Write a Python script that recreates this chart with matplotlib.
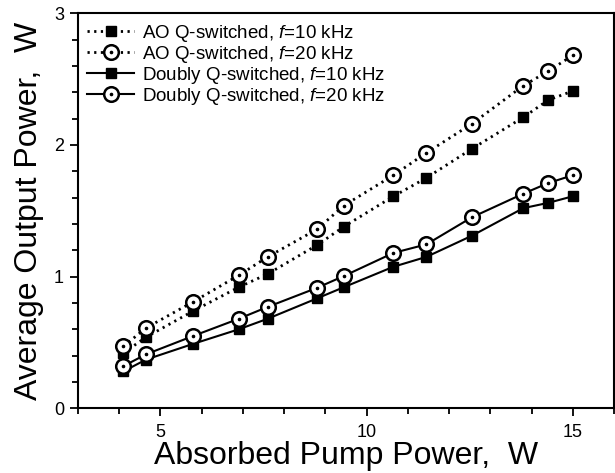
import matplotlib
matplotlib.use("Agg")
import matplotlib.pyplot as plt
from matplotlib.ticker import MultipleLocator
from matplotlib.legend_handler import HandlerTuple

plt.rcParams['font.family'] = ['Liberation Sans', 'DejaVu Sans']
plt.rcParams['mathtext.fontset'] = 'custom'
plt.rcParams['mathtext.it'] = 'Liberation Sans:italic'
plt.rcParams['mathtext.rm'] = 'Liberation Sans'

pump = [4.1, 4.65, 5.8, 6.9, 7.6, 8.8, 9.45, 10.65, 11.45, 12.55, 13.8, 14.4, 15.0]
ao_10 = [0.42, 0.54, 0.74, 0.92, 1.02, 1.24, 1.38, 1.61, 1.75, 1.97, 2.21, 2.34, 2.41]
ao_20 = [0.47, 0.61, 0.81, 1.01, 1.15, 1.36, 1.54, 1.77, 1.94, 2.16, 2.45, 2.56, 2.68]
dq_10 = [0.28, 0.37, 0.49, 0.60, 0.68, 0.835, 0.92, 1.075, 1.15, 1.31, 1.52, 1.56, 1.61]
dq_20 = [0.32, 0.41, 0.55, 0.68, 0.77, 0.915, 1.005, 1.18, 1.245, 1.45, 1.63, 1.71, 1.77]

labels = ["AO Q-switched, $f$=10 kHz", "AO Q-switched, $f$=20 kHz",
          "Doubly Q-switched, $f$=10 kHz", "Doubly Q-switched, $f$=20 kHz"]

fig = plt.figure(figsize=(6.15, 4.73), dpi=100)
ax = fig.add_axes([0.1268, 0.1368, 0.8716, 0.8351])

dotted = (0, (0.8, 1.6))
sq = dict(marker='s', markersize=7.5, markerfacecolor='black', markeredgecolor='black', color='black')
ci = dict(marker='o', markersize=10.5, markerfacecolor='white', markeredgecolor='black',
          markeredgewidth=1.8, color='black')
dot = dict(marker='o', markersize=1.6, linestyle='none', color='black')

h1, = ax.plot(pump, ao_10, linestyle=dotted, linewidth=2.0, **sq)
h2, = ax.plot(pump, ao_20, linestyle=dotted, linewidth=2.0, **ci)
d2, = ax.plot(pump, ao_20, **dot)
h3, = ax.plot(pump, dq_10, linestyle='-', linewidth=1.5, **sq)
h4, = ax.plot(pump, dq_20, linestyle='-', linewidth=1.5, **ci)
d4, = ax.plot(pump, dq_20, **dot)

ax.set_xlim(3, 16)
ax.set_ylim(0, 3)
ax.xaxis.set_major_locator(MultipleLocator(5))
ax.xaxis.set_minor_locator(MultipleLocator(1))
ax.yaxis.set_major_locator(MultipleLocator(1))
ax.yaxis.set_minor_locator(MultipleLocator(0.2))
ax.tick_params(which='major', direction='out', length=6, width=1.3, labelsize=13, pad=4)
ax.tick_params(which='minor', direction='out', length=4, width=1.3)
ax.tick_params(axis='x', which='major', pad=5)
for s in ax.spines.values():
    s.set_linewidth(1.5)

ax.set_xlabel("Absorbed Pump Power,  W", fontsize=23, labelpad=0.5)
ax.set_ylabel("Average Output Power,  W", fontsize=23, labelpad=7)

leg = ax.legend([h1, (h2, d2), h3, (h4, d4)], labels,
                handler_map={tuple: HandlerTuple(ndivide=1, pad=0)},
                loc='upper left', frameon=False, fontsize=13.5,
                handlelength=2.5, handletextpad=0.4, labelspacing=0.0,
                borderaxespad=0.3, borderpad=0.2)

fig.savefig("out.png", dpi=100)
